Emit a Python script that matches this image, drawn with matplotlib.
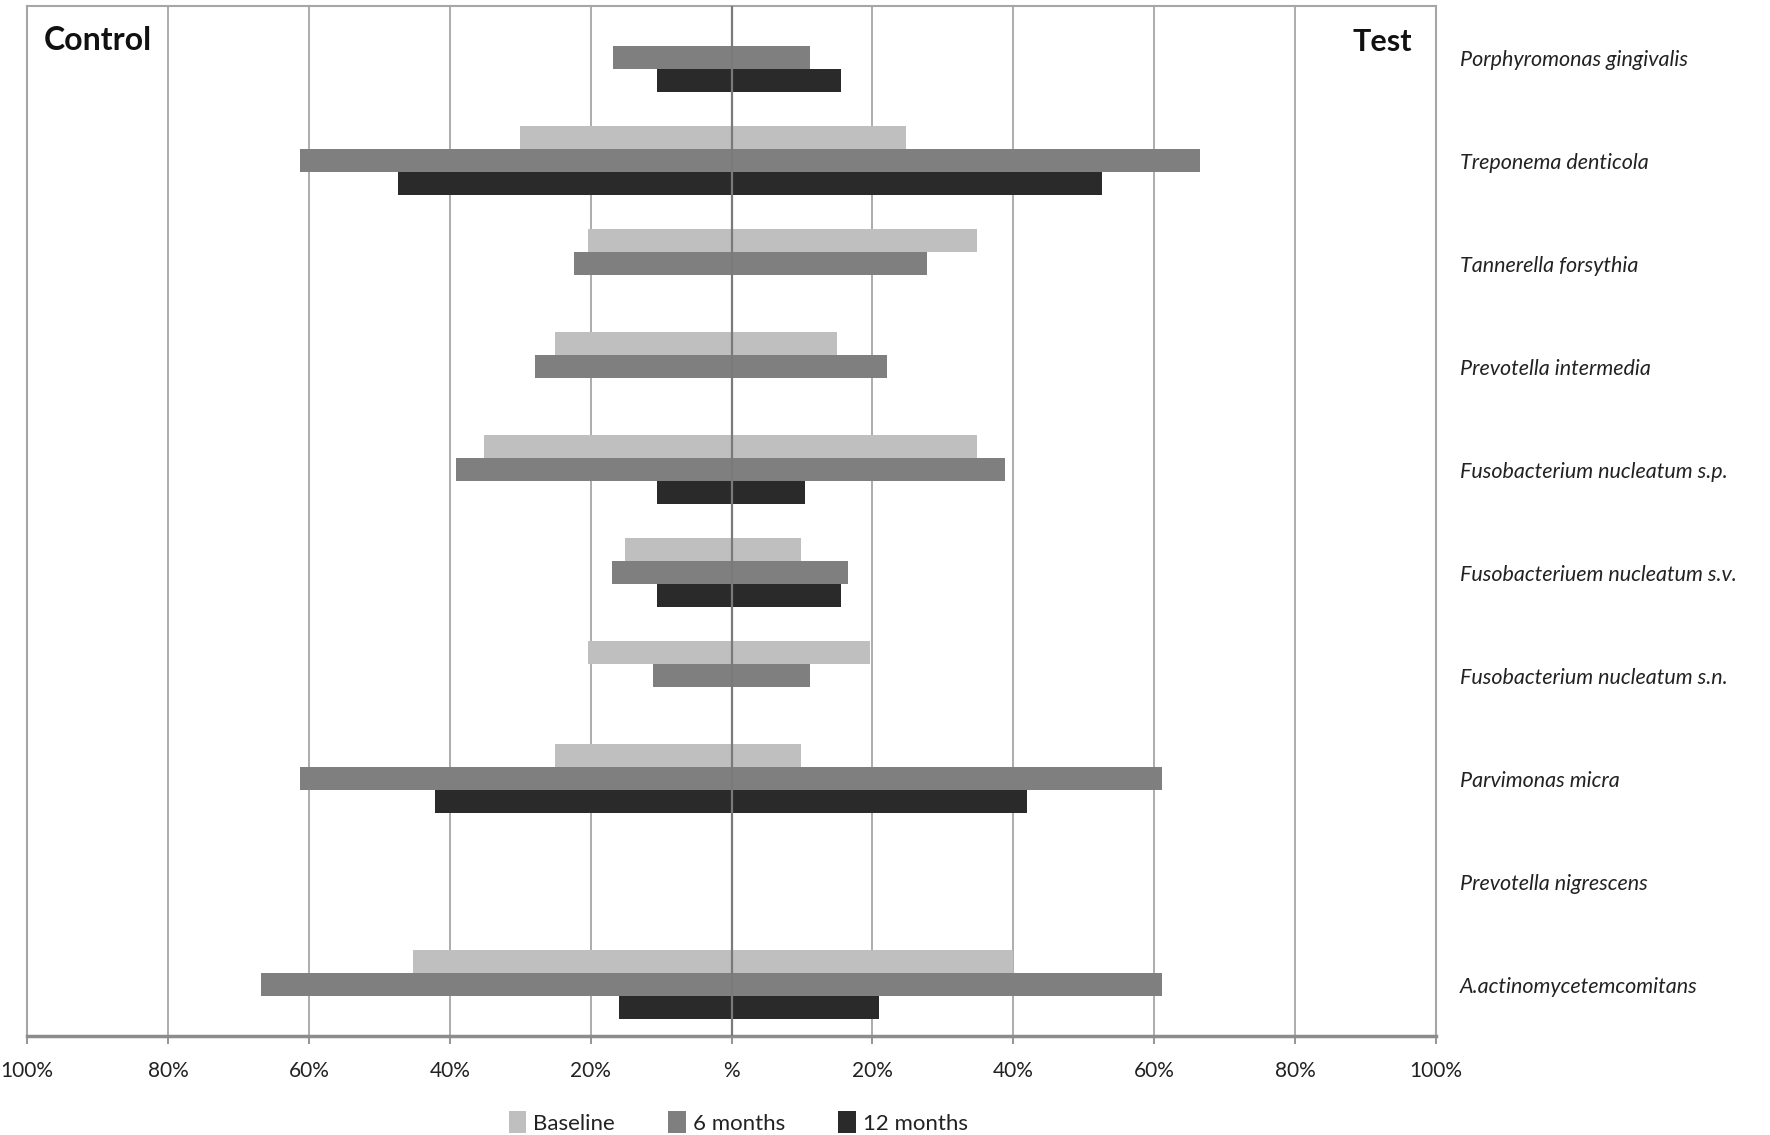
import matplotlib
matplotlib.use("Agg")
import matplotlib.pyplot as plt
import numpy as np
from matplotlib.ticker import FuncFormatter, MultipleLocator

plt.rcParams['font.family'] = ['Lato', 'DejaVu Sans']

categories = [
    "Porphyromonas gingivalis",
    "Treponema denticola",
    "Tannerella forsythia",
    "Prevotella intermedia",
    "Fusobacterium nucleatum s.p.",
    "Fusobacteriuem nucleatum s.v.",
    "Fusobacterium nucleatum s.n.",
    "Parvimonas micra",
    "Prevotella nigrescens",
    "A.actinomycetemcomitans",
]
series = ["Baseline", "6 months", "12 months"]

# Control group (left side), percent
control_baseline = [0, 30.0, 20.4, 25.0, 35.1, 15.1, 20.4, 25.0, 0, 45.2]
control_6m       = [16.8, 61.2, 22.3, 27.9, 39.1, 17.0, 11.2, 61.2, 0, 66.8]
control_12m      = [10.6, 47.4, 0, 0, 10.6, 10.6, 0, 42.1, 0, 16.0]
# Test group (right side), percent
test_baseline = [0, 24.8, 34.9, 14.9, 34.9, 9.9, 19.7, 9.9, 0, 39.9]
test_6m       = [11.1, 66.5, 27.7, 22.1, 38.8, 16.5, 11.1, 61.1, 0, 61.1]
test_12m      = [15.6, 52.6, 0, 0, 10.4, 15.5, 0, 42.0, 0, 21.0]

colors = ["#BFBFBF", "#7F7F7F", "#2A2A2A"]

fig = plt.figure(figsize=(17.7, 11.35), dpi=100)
ax = fig.add_axes([0.0153, 0.0872, 0.7960, 0.9075])

y = np.arange(len(categories))
h = 0.225
offsets = [-h, 0, h]
ctrl = [control_baseline, control_6m, control_12m]
test = [test_baseline, test_6m, test_12m]
for i in range(3):
    c = np.array(ctrl[i]); t = np.array(test[i])
    ax.barh(y + offsets[i], -c, height=h, color=colors[i], label=series[i], zorder=2)
    ax.barh(y + offsets[i], t, height=h, color=colors[i], zorder=2)

ax.set_xlim(-100, 100)
ax.set_ylim(len(categories) - 0.5, -0.5)
ax.xaxis.set_major_locator(MultipleLocator(20))
ax.xaxis.set_major_formatter(FuncFormatter(lambda v, p: "%" if abs(v) < 1e-9 else f"{abs(v):.0f}%"))
ax.grid(axis='x', color='#A6A6A6', linewidth=1.3, zorder=0)
ax.axvline(0, color='#7A7A7A', linewidth=1.6, zorder=3)

for s in ['left', 'top', 'right']:
    ax.spines[s].set_color('#A6A6A6')
    ax.spines[s].set_linewidth(1.5)
ax.spines['bottom'].set_color('#8C8C8C')
ax.spines['bottom'].set_linewidth(2.5)

ax.tick_params(axis='x', length=6, width=1.3, color='#8C8C8C', labelsize=15, pad=12, labelcolor='#222222')
ax.set_yticks(y)
ax.set_yticklabels(categories, fontsize=15.5, style='italic', color='#222222')
ax.yaxis.set_ticks_position('right')
ax.tick_params(axis='y', length=0, pad=17)

ax.text(0.012, 0.967, "Control", transform=ax.transAxes, fontsize=23, fontweight='bold',
        ha='left', va='center', color='#111111')
ax.text(0.983, 0.965, "Test", transform=ax.transAxes, fontsize=22, fontweight='bold',
        ha='right', va='center', color='#111111')

leg = fig.legend(loc='center', bbox_to_anchor=(0.417, 0.011), ncol=3, frameon=False,
                 fontsize=16, handlelength=0.8, handleheight=1.1, columnspacing=2.4, handletextpad=0.3)
for t in leg.get_texts():
    t.set_color('#222222')

fig.savefig("out.png", dpi=100)
